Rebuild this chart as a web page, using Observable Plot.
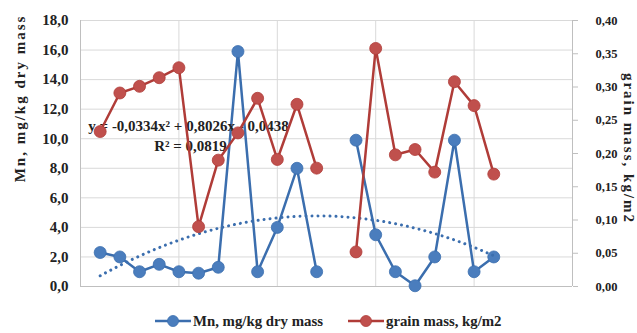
<!DOCTYPE html>
<html>
<head>
<meta charset="utf-8">
<script src="https://cdn.jsdelivr.net/npm/d3@7"></script>
<script src="https://cdn.jsdelivr.net/npm/@observablehq/plot@0.6"></script>
<style>
  html, body { margin: 0; padding: 0; background: #fff; }
  #wrap { position: relative; width: 637px; height: 333px; overflow: hidden; font-family: "Liberation Serif", "Times New Roman", serif; }
  #legend { position: absolute; top: 311px; left: 0; width: 637px; height: 20px; font-weight: bold; font-size: 14.8px; line-height: 20px; color: #222; }
  .item { position: absolute; top: 0; display: flex; align-items: center; height: 20px; white-space: nowrap; }
  .item svg { margin-right: 2px; }
</style>
</head>
<body>
<div id="wrap"></div>
<script>
// sample number (x position), 13 is a gap
const sampleNo = [1,2,3,4,5,6,7,8,9,10,11,12,13,14,15,16,17,18,19,20,21];
// Mn, mg/kg dry mass (left axis)
const mnValues = [2.3,2.0,1.0,1.5,1.0,0.9,1.3,15.9,1.0,4.0,8.0,1.0,null,9.9,3.5,1.0,0.05,2.0,9.9,1.0,2.0];
// grain mass, kg/m2 (right axis)
const grainValues = [0.233,0.291,0.301,0.314,0.329,0.090,0.190,0.231,0.283,0.191,0.274,0.178,null,0.052,0.358,0.198,0.206,0.172,0.308,0.272,0.169];
// polynomial trendline of Mn, coefficients as printed on the chart (a x^2 + b x + c)
const trendCoef = [-0.0334, 0.8026, -0.0438];
const trendLabel = ["y = -0,0334x\u00B2 + 0,8026x - 0,0438", "R\u00B2 = 0,0819"];
// axis ticks
const leftTicks = [0,2,4,6,8,10,12,14,16,18];
const rightTicks = [0,0.05,0.10,0.15,0.20,0.25,0.30,0.35,0.40];
const xGrid = [0,5,10,15,20,25];
const leftTitle = "Mn, mg/kg dry mass";
const rightTitle = "grain mass, kg/m2";

const leftMax = 18, rightMax = 0.40;
const k = leftMax / rightMax;

const mnData = sampleNo.map((x, i) => ({x, v: mnValues[i]}));
const grainData = sampleNo.map((x, i) => ({x, v: grainValues[i] == null ? null : grainValues[i] * k}));
const trendData = d3.range(1, 21.001, 0.25).map(x => ({x, v: trendCoef[0]*x*x + trendCoef[1]*x + trendCoef[2]}));

const blueLine = "#3b6eae", blueDot = "#4a7dbd";
const redLine = "#b03c38", redDot = "#c0504d";
const serif = "Liberation Serif";
const fmt1 = d => d.toFixed(1).replace(".", ",");
const fmt2 = d => (d / k).toFixed(2).replace(".", ",");

const chart = Plot.plot({
  width: 637,
  height: 300,
  marginTop: 20,
  marginBottom: 14,
  marginLeft: 80,
  marginRight: 65,
  style: {fontFamily: serif, background: "#fff", overflow: "visible"},
  x: {domain: [0, 25], axis: null},
  y: {domain: [0, leftMax], axis: null},
  marks: [
    Plot.gridY(leftTicks, {stroke: "#d9d9d9", strokeOpacity: 1, strokeWidth: 1}),
    Plot.gridX(xGrid, {stroke: "#d9d9d9", strokeOpacity: 1, strokeWidth: 1}),
    Plot.ruleX([0], {stroke: "#bfbfbf"}),
    Plot.ruleY([0], {stroke: "#bfbfbf"}),
    Plot.ruleX([25], {stroke: "#bfbfbf"}),
    Plot.axisY(leftTicks, {anchor: "left", label: null, tickSize: 0, tickPadding: 12, tickFormat: fmt1, fontFamily: serif, fontSize: 15, fontWeight: "bold", fill: "#222"}),
    Plot.axisY(rightTicks.map(v => v * k), {anchor: "right", label: null, tickSize: 5, tickPadding: 18, stroke: "#bfbfbf", tickFormat: fmt2, fontFamily: serif, fontSize: 12.5, fontWeight: "bold", fill: "#222"}),
    Plot.text([leftTitle], {frameAnchor: "left", dx: -60, dy: -55, rotate: -90, fontFamily: serif, fontSize: 15, fontWeight: "bold", fill: "#222", textAnchor: "middle", lineAnchor: "middle"}),
    Plot.text([rightTitle], {frameAnchor: "right", dx: 56, dy: -5, rotate: 90, fontFamily: serif, fontSize: 15, fontWeight: "bold", fill: "#222", textAnchor: "middle", lineAnchor: "middle"}),
    Plot.line(mnData, {x: "x", y: "v", stroke: blueLine, strokeWidth: 2.5}),
    Plot.dot(mnData.filter(d => d.v != null), {x: "x", y: "v", r: 6, fill: blueDot, stroke: blueLine, strokeWidth: 0.8}),
    Plot.line(trendData, {x: "x", y: "v", stroke: blueLine, strokeWidth: 3, strokeDasharray: "0.01,6", strokeLinecap: "round"}),
    Plot.text([trendLabel[0]], {frameAnchor: "top-left", dx: 108, dy: 106, fontFamily: serif, fontSize: 15, fontWeight: "bold", fill: "#222", textAnchor: "middle", lineAnchor: "middle"}),
    Plot.text([trendLabel[1]], {frameAnchor: "top-left", dx: 110, dy: 126, fontFamily: serif, fontSize: 15, fontWeight: "bold", fill: "#222", textAnchor: "middle", lineAnchor: "middle"}),
    Plot.line(grainData, {x: "x", y: "v", stroke: redLine, strokeWidth: 2.5}),
    Plot.dot(grainData.filter(d => d.v != null), {x: "x", y: "v", r: 6, fill: redDot, stroke: redLine, strokeWidth: 0.8})
  ]
});
// spread out the axis titles, as in the reference
d3.select(chart).selectAll("text").each(function() {
  const t = this.textContent;
  if (t === leftTitle || t === rightTitle) this.setAttribute("letter-spacing", "2");
});
document.getElementById("wrap").appendChild(chart);

// legend
const legend = document.createElement("div");
legend.id = "legend";
function item(left, lineC, dotC, label) {
  const d = document.createElement("div");
  d.className = "item";
  d.style.left = left + "px";
  d.innerHTML = `<svg width="36" height="14"><line x1="0" y1="7" x2="36" y2="7" stroke="${lineC}" stroke-width="2.5"/><circle cx="18" cy="7" r="5.5" fill="${dotC}" stroke="${lineC}" stroke-width="0.8"/></svg><span>${label}</span>`;
  return d;
}
legend.appendChild(item(155, blueLine, blueDot, leftTitle));
legend.appendChild(item(348, redLine, redDot, rightTitle));
document.getElementById("wrap").appendChild(legend);
</script>
</body>
</html>
